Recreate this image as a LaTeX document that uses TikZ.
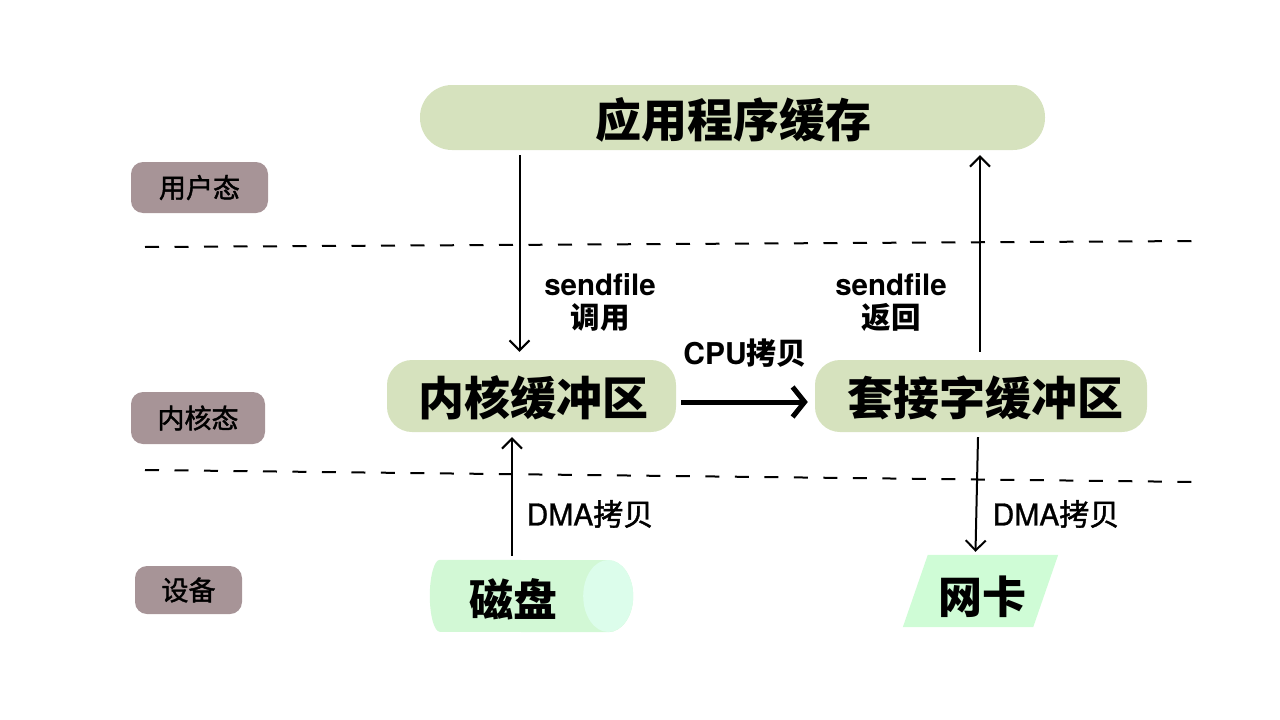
\documentclass[tikz,border=0pt]{standalone}
\usepackage{fontspec}
\setmainfont{TeX Gyre Heros}
\newfontfamily\cjk{Noto Sans CJK SC}
\newfontfamily\cjkmm[UprightFeatures={FakeBold=1.5}]{Noto Sans CJK SC}
\newfontfamily\latm[UprightFeatures={FakeBold=1}]{TeX Gyre Heros}
\usetikzlibrary{arrows.meta,calc,backgrounds}
\definecolor{boxgreen}{HTML}{D6E2BE}
\definecolor{modegray}{HTML}{A79497}
\definecolor{diskbody}{HTML}{D2F8D5}
\definecolor{diskcap}{HTML}{DCFDEB}
\definecolor{nicfill}{HTML}{CFFCD6}
\tikzset{
  bigbox/.style={fill=boxgreen, rounded corners=25pt, inner sep=0pt},
  modebox/.style={fill=modegray, rounded corners=12pt, inner sep=0pt,
    font=\cjkmm\fontsize{27}{30}\selectfont},
  bigtext/.style={font=\cjk\bfseries\fontsize{46}{50}\selectfont},
  devtext/.style={font=\cjk\bfseries\fontsize{44}{48}\selectfont},
  lbl/.style={font=\bfseries\fontsize{29.5}{33}\selectfont, align=center, inner sep=0pt},
  dmalbl/.style={font=\latm\fontsize{30}{33}\selectfont, inner sep=0pt},
  arr/.style={-{Straight Barb[length=10pt,width=20pt]}, line width=2pt},
  thickarr/.style={-{Straight Barb[length=12pt,width=30pt]}, line width=5pt},
  sep/.style={dash pattern=on 14pt off 15.5pt, line width=2pt}
}
\begin{document}
\begin{tikzpicture}[x=1pt,y=-1pt]
\useasboundingbox (0,0) rectangle (1280,720);

% separators
\coordinate (s1a) at (145,247); \coordinate (s1b) at (1198,241);
\coordinate (s2a) at (145,470); \coordinate (s2b) at (1198,482);
\draw[sep] (s1a) -- (s1b);
\draw[sep] (s2a) -- (s2b);

% main boxes
\node[bigbox, rounded corners=32pt, minimum width=625pt, minimum height=65pt] (top) at (732.5,117.5) {};
\node[bigtext] (toplbl) at (733,120) {应用程序缓存};

\node[bigbox, minimum width=289pt, minimum height=72pt] (kbuf) at (531.5,396) {};
\node[bigtext] (kbuflbl) at (533,398) {内核缓冲区};

\node[bigbox, minimum width=332pt, minimum height=72pt] (sbuf) at (981,396) {};
\node[bigtext] (sbuflbl) at (985,398) {套接字缓冲区};

% mode labels
\node[modebox, minimum width=137pt, minimum height=51pt] (user) at (199.5,187.5) {用户态};
\node[modebox, minimum width=134pt, minimum height=52pt] (kern) at (198,418) {内核态};
\node[modebox, minimum width=107pt, minimum height=48pt] (dev) at (188.5,590) {设备};

% disk (cylinder)
\node[minimum width=203pt, minimum height=72pt, inner sep=0pt] (disk) at (531.5,596) {};
\fill[diskbody] ($(disk.north west)+(10,0)$) arc[start angle=90,end angle=270,x radius=10pt,y radius=36pt]
  -- ($(disk.south east)+(-25,0)$) arc[start angle=270,end angle=450,x radius=25pt,y radius=36pt] -- cycle;
\fill[diskcap] ($(disk.east)+(-25,0)$) ellipse[x radius=25pt, y radius=36pt];
\node[devtext] (disklbl) at (513,599) {磁盘};

% NIC (parallelogram)
\node[minimum width=130pt, minimum height=72pt, inner sep=0pt] (nic) at (980.5,591) {};
\fill[nicfill] ($(nic.north west)+(12.5,0)$) -- ($(nic.north east)+(12.5,0)$)
  -- ($(nic.south east)+(-12.5,0)$) -- ($(nic.south west)+(-12.5,0)$) -- cycle;
\node[devtext] (niclbl) at (982,597) {网卡};

% arrows
\draw[arr] ($(top.south -| kbuf.north)+(-12,5)$) -- ($(kbuf.north)+(-12,-8)$);
\draw[arr] ($(sbuf.north)+(-1,-8)$) -- ($(top.south -| sbuf.north)+(-1,5)$);
\draw[thickarr] ($(kbuf.east)+(5,6)$) -- ($(sbuf.west)+(-7,6)$);
\draw[arr] ($(disklbl |- disk.north)+(-1,-4)$) -- ($(disklbl |- kbuf.south)+(-1,5)$);
\draw[arr] ($(sbuf.south)+(-3,5)$) -- ($(nic.north)+(-5,-3)$);

% labels
\node[lbl] (l1) at (600,302) {sendfile\\{\cjk 调用}};
\node[lbl] (l2) at (891,303) {sendfile\\{\cjk 返回}};
\node[lbl, font=\bfseries\fontsize{30}{34}\selectfont] (l3) at (745,353) {CPU{\cjk 拷贝}};
\node[dmalbl] (l4) at (590,514) {DMA{\cjkmm 拷贝}};
\node[dmalbl] (l5) at (1056,514) {DMA{\cjkmm 拷贝}};
\end{tikzpicture}
\end{document}
